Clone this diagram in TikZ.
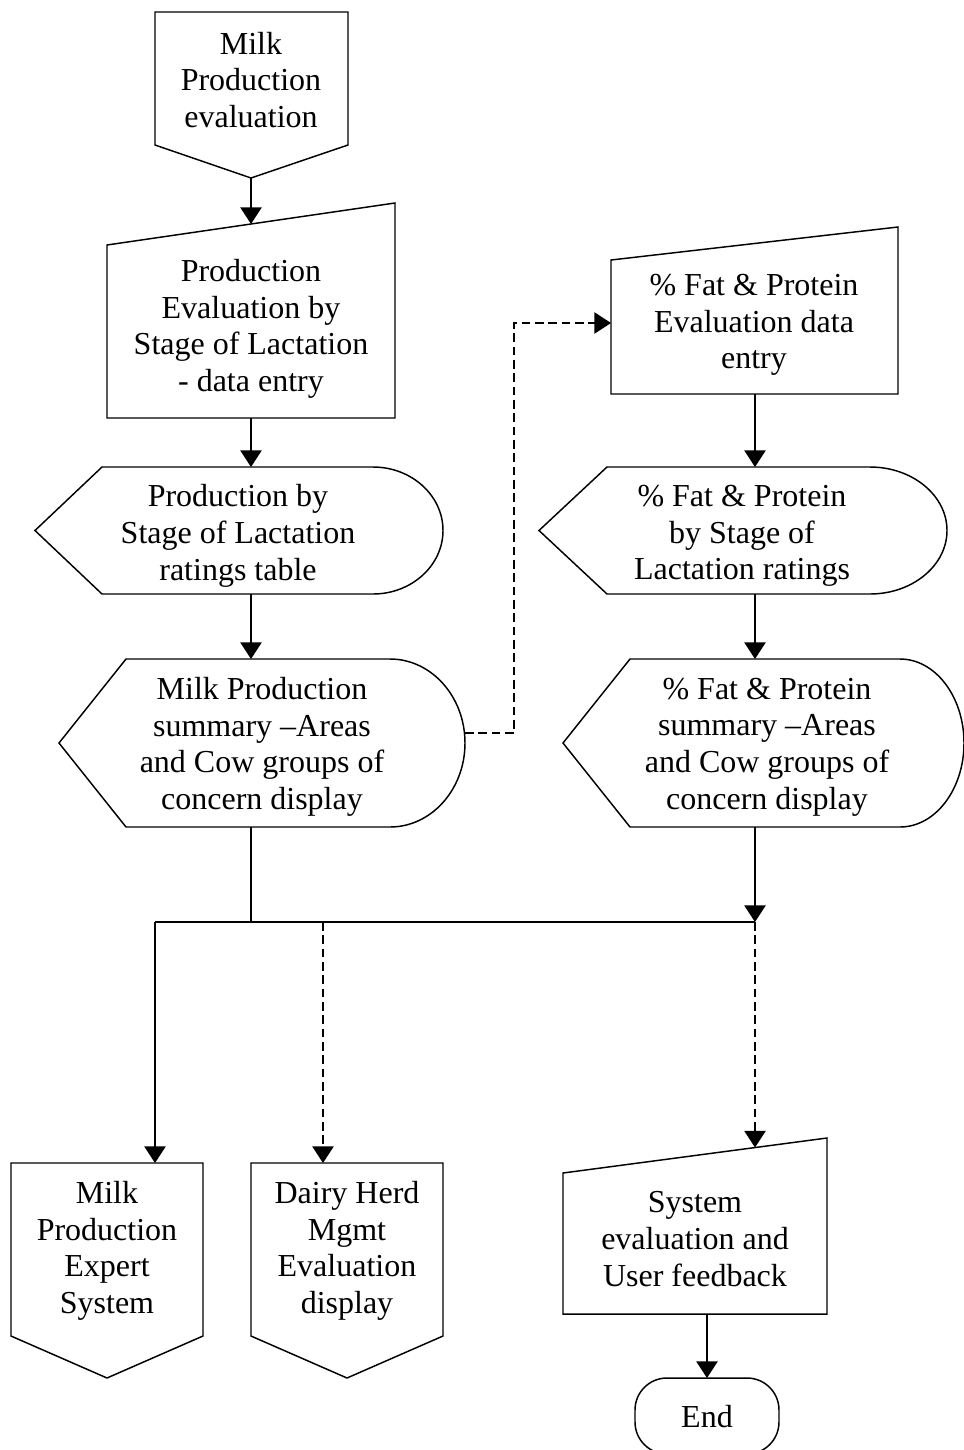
\documentclass[tikz,border=0pt]{standalone}
\usepackage{fontspec}
\setmainfont{Liberation Serif}
\usetikzlibrary{arrows.meta}
\tikzset{
  shp/.style={draw=black,line width=1.1pt,line join=miter},
  txt/.style={align=center,inner sep=0pt,font=\fontsize{24pt}{27.5pt}\selectfont},
  con/.style={line width=1.1pt},
  arr/.style={con,-{Triangle[length=12.5pt,width=16pt]}},
  dsh/.style={dash pattern=on 6.5pt off 3.5pt}
}
\begin{document}
\begin{tikzpicture}[x=0.75pt,y=-0.75pt]
\useasboundingbox (0,0) rectangle (964,1450);
\fill[white] (0,0) rectangle (964,1450);

% n1 off-page connector
\draw[shp] (155,12) -- (348,12) -- (348,145) -- (251,178) -- (155,145) -- cycle;
\node[txt] (n1) at (251,80) {Milk\\Production\\evaluation};
\coordinate (n1b) at (251,178);

% n2 manual input
\draw[shp] (107,245) -- (395,203) -- (395,418) -- (107,418) -- cycle;
\node[txt] (n2) at (251,329) {Production\\Evaluation by\\Stage of Lactation\\- data entry};
\coordinate (n2t) at (251,224);
\coordinate (n2b) at (251,418);

% n3 display
\draw[shp] (35,530.5) -- (102,467) -- (373,467)
  .. controls (411.6,467) and (443,495.5) .. (443,530.5)
  .. controls (443,565.5) and (411.6,594) .. (373,594) -- (102,594) -- cycle;
\node[txt] (n3) at (238,536) {Production by\\Stage of Lactation\\ratings table};
\coordinate (n3t) at (251,467);
\coordinate (n3b) at (251,594);

% n4 display
\draw[shp] (59,743) -- (126,659) -- (390,659)
  .. controls (431.4,659) and (465,696.6) .. (465,743)
  .. controls (465,789.4) and (431.4,827) .. (390,827) -- (126,827) -- cycle;
\node[txt] (n4) at (262,747) {Milk Production\\summary \textendash Areas\\and Cow groups of\\concern display};
\coordinate (n4t) at (251,659);
\coordinate (n4b) at (251,827);
\coordinate (n4r) at (465,733);

% n5 manual input
\draw[shp] (611,260) -- (898,227) -- (898,394) -- (611,394) -- cycle;
\node[txt] (n5) at (754,325) {\% Fat \& Protein\\Evaluation data\\entry};
\coordinate (n5l) at (611,323);
\coordinate (n5b) at (755,394);

% n6 display
\draw[shp] (539,530.5) -- (607,467) -- (870,467)
  .. controls (912.5,467) and (947,495.5) .. (947,530.5)
  .. controls (947,565.5) and (912.5,594) .. (870,594) -- (607,594) -- cycle;
\node[txt] (n6) at (742,536) {\% Fat \& Protein\\by Stage of\\Lactation ratings};
\coordinate (n6t) at (755,467);
\coordinate (n6b) at (755,594);

% n7 display
\draw[shp] (563,743) -- (630,659) -- (900,659)
  .. controls (935.3,659) and (964,696.6) .. (964,743)
  .. controls (964,789.4) and (935.3,827) .. (900,827) -- (630,827) -- cycle;
\node[txt] (n7) at (767,747) {\% Fat \& Protein\\summary \textendash Areas\\and Cow groups of\\concern display};
\coordinate (n7t) at (755,659);
\coordinate (n7b) at (755,827);

% n8 off-page
\draw[shp] (11,1163) -- (203,1163) -- (203,1336) -- (107,1378) -- (11,1336) -- cycle;
\node[txt] (n8) at (107,1251) {Milk\\Production\\Expert\\System};
\coordinate (n8t) at (155,1163);

% n9 off-page
\draw[shp] (251,1163) -- (443,1163) -- (443,1336) -- (347,1378) -- (251,1336) -- cycle;
\node[txt] (n9) at (347,1251) {Dairy Herd\\Mgmt\\Evaluation\\display};
\coordinate (n9t) at (323,1163);

% n10 manual input
\draw[shp] (563,1173) -- (827,1138) -- (827,1314) -- (563,1314) -- cycle;
\node[txt] (n10) at (695,1239) {System\\evaluation and\\User feedback};
\coordinate (n10t) at (755,1147.5);
\coordinate (n10b) at (707,1314);

% End terminator
\draw[shp,rounded corners=24pt] (635,1378) rectangle (779,1454);
\node[txt] (nend) at (707,1417) {End};
\coordinate (nendt) at (707,1378);

% junction coordinates
\coordinate (jl) at (251,922);
\coordinate (jr) at (755,922);
\coordinate (j1) at (155,922);
\coordinate (j2) at (323,922);
\coordinate (d1) at (514,733);
\coordinate (d2) at (514,323);

% connectors
\draw[arr] (n1b) -- (n2t);
\draw[arr] (n2b) -- (n3t);
\draw[arr] (n3b) -- (n4t);
\draw[arr,dsh] (n4r) -- (d1) -- (d2) -- (n5l);
\draw[arr] (n5b) -- (n6t);
\draw[arr] (n6b) -- (n7t);
\draw[con] (n4b) -- (jl);
\draw[con] (j1) -- (jr);
\draw[arr] (n7b) -- (jr);
\draw[arr] (j1) -- (n8t);
\draw[arr,dsh] (j2) -- (n9t);
\draw[arr,dsh] (jr) -- (n10t);
\draw[arr] (n10b) -- (nendt);
\end{tikzpicture}
\end{document}
